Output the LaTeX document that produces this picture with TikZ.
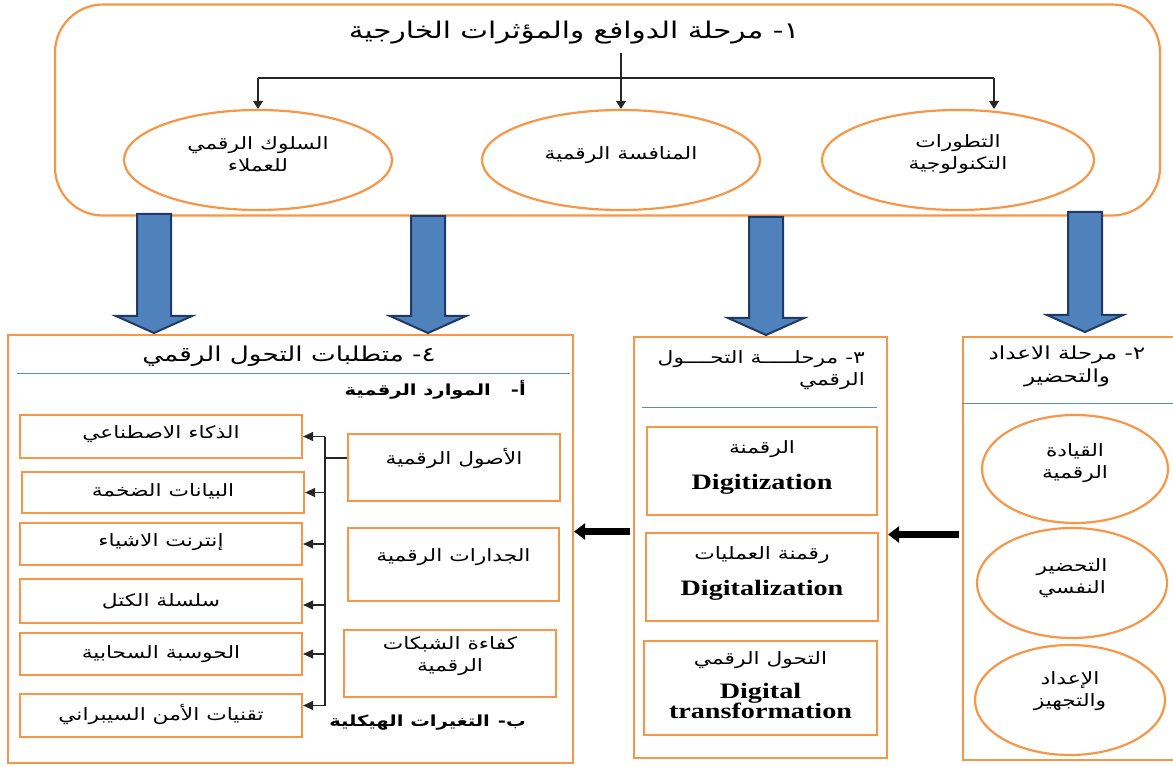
\documentclass[tikz,border=0pt]{standalone}
\usepackage{fontspec}
\setmainfont{Liberation Serif}
\newfontfamily\arabicfont[Script=Arabic, FakeStretch=1.28]{DejaVu Sans}
\newfontfamily\latinfont[FakeStretch=1.28]{Liberation Serif}
\TeXXeTstate=1
\usetikzlibrary{shapes.geometric,arrows.meta}
\newcommand{\artxt}[1]{{\arabicfont\beginR #1\endR}}
\newcommand{\entxt}[1]{{\latinfont\fontsize{22}{22}\selectfont\bfseries #1}}
\newcommand{\fsz}[2]{\fontsize{#1}{#2}\selectfont}
\definecolor{orng}{HTML}{F79646}
\definecolor{bfill}{HTML}{4F81BD}
\definecolor{bedge}{HTML}{1F3B63}
\definecolor{sepline}{HTML}{5B8BC6}
\begin{document}
\begin{tikzpicture}[x=1pt,y=-1pt,
  ob/.style={draw=orng, line width=2.2pt, inner sep=0pt},
  panel/.style={ob, rectangle},
  itembox/.style={ob, rectangle},
  oval/.style={ob, ellipse},
  txt/.style={align=center, inner sep=0pt, font=\fsz{17}{22}},
  conn/.style={draw=black!85, line width=1.1pt},
  tipS/.style={-{Triangle[length=8pt,width=10pt]}},
  tipL/.style={-{Triangle[length=10pt,width=9pt]}},
  bigarrow/.style={draw=black, line width=7pt, -{Triangle[length=11pt,width=16pt]}},
  blockarrow/.style={fill=bfill, draw=bedge, line width=2pt, line join=miter},
  sep/.style={draw=sepline, line width=1pt},
  sub/.style={inner sep=0pt, font=\fsz{15.3}{18}\bfseries}
]
\useasboundingbox (0,0) rectangle (1173,767);
\clip (0,0) rectangle (1173,767);

% ---- stage 1: external drivers ----
\node[ob, rounded corners=48pt, minimum width=1105pt, minimum height=211pt] (s1) at (607.5,110) {};
\node[inner sep=0pt, font=\fsz{23}{26}] (t1) at (574,33) {\artxt{١- مرحلة الدوافع والمؤثرات الخارجية}};
\node[oval, minimum width=268pt, minimum height=100pt] (e1) at (258,160) {};
\node[oval, minimum width=278pt, minimum height=100pt] (e2) at (621,160) {};
\node[oval, minimum width=272pt, minimum height=100pt] (e3) at (958,160) {};
\node[txt] (e1t) at ([yshift=6pt]e1.center) {\artxt{السلوك الرقمي}\\\artxt{للعملاء}};
\node[txt] (e2t) at ([yshift=5pt]e2.center) {\artxt{المنافسة الرقمية}};
\node[txt] (e3t) at ([yshift=6pt]e3.center) {\artxt{التطورات}\\\artxt{التكنولوجية}};

\coordinate (hb) at (622,78);
\coordinate (e3n) at ([xshift=36pt]e3.north);
\draw[conn, tipS] ([yshift=-8pt]t1.south -| e2.north) -- (e2.north);
\draw[conn] (hb -| e1.north) -- (hb -| e3n);
\draw[conn, tipS] (hb -| e1.north) -- (e1.north);
\draw[conn, tipS] (hb -| e3n) -- (e3n);

% ---- block arrows down to the stages ----
\foreach \x/\a/\b in {154/214/333, 428/216/333, 766/217/335, 1085/212/332}
  \draw[blockarrow] (\x-17,\a) -- (\x+17,\a) -- (\x+17,\b-17) -- (\x+38,\b-17)
       -- (\x,\b) -- (\x-38,\b-17) -- (\x-17,\b-17) -- cycle;

% ---- stage 2: preparation ----
\node[panel, minimum width=222pt, minimum height=423pt] (p2) at (1074,548.5) {};
\node[txt, font=\fsz{18}{23}] (t2) at (1067,366) {\artxt{٢- مرحلة الاعداد}\\\artxt{والتحضير}};
\draw[sep] (p2.west |- 0,403) -- (1173,403);
\node[oval, minimum width=186pt, minimum height=108pt] (r1) at (1075,469) {};
\node[oval, minimum width=190pt, minimum height=110pt] (r2) at (1072,583) {};
\node[oval, minimum width=190pt, minimum height=110pt] (r3) at (1070,700) {};
\node[txt] (r1t) at ([yshift=5.5pt]r1.center) {\artxt{القيادة}\\\artxt{الرقمية}};
\node[txt] (r2t) at ([yshift=5pt]r2.center) {\artxt{التحضير}\\\artxt{النفسي}};
\node[txt] (r3t) at ([yshift=9pt]r3.center) {\artxt{الإعداد}\\\artxt{والتجهيز}};

% ---- stage 3: digital transformation ----
\node[panel, minimum width=253pt, minimum height=421pt] (p3) at (760.5,547.5) {};
\node[txt, font=\fsz{17}{22}, align=right, anchor=east] (t3) at (865,370) {\artxt{٣- مرحلـــــة التحــــول}\\\artxt{الرقمي}};
\draw[sep] (642,407) -- (877,407);
\node[itembox, minimum width=230pt, minimum height=88pt] (m1) at (762,471) {};
\node[itembox, minimum width=232pt, minimum height=88pt] (m2) at (762,577) {};
\node[itembox, minimum width=233pt, minimum height=94pt] (m3) at (760.5,688) {};
\node[txt] (m1t) at ([yshift=4pt]m1.center) {\artxt{الرقمنة}\\[14pt]\entxt{Digitization}};
\node[txt] (m2t) at ([yshift=3.5pt]m2.center) {\artxt{رقمنة العمليات}\\[14pt]\entxt{Digitalization}};
\node[txt] (m3t) at ([yshift=3pt]m3.center) {\artxt{التحول الرقمي}\\[12pt]\entxt{Digital}\\[-2pt]\entxt{transformation}};

% ---- stage 4: requirements ----
\node[panel, minimum width=565pt, minimum height=428pt] (p4) at (290.5,549) {};
\node[txt, font=\fsz{20.5}{22}] (t4) at (289,356) {\artxt{٤- متطلبات التحول الرقمي}};
\draw[sep] (17,373) -- (570,373);
\node[sub, anchor=east] (h1) at (526,390) {\artxt{أ-\hspace{20pt}الموارد الرقمية}};
\node[sub, anchor=east] (h2) at (526,723) {\artxt{ب-\hspace{8pt}التغيرات الهيكلية}};

\node[itembox, minimum width=212pt, minimum height=67pt] (a1) at (454,467.5) {};
\node[itembox, minimum width=211pt, minimum height=73pt] (a2) at (453.5,564.5) {};
\node[itembox, minimum width=212pt, minimum height=67pt] (a3) at (450,663.5) {};
\node[txt] (a1t) at ([yshift=9pt]a1.center) {\artxt{الأصول الرقمية}};
\node[txt] (a2t) at ([yshift=7pt]a2.center) {\artxt{الجدارات الرقمية}};
\node[txt] (a3t) at ([yshift=7pt]a3.center) {\artxt{كفاءة الشبكات}\\\artxt{الرقمية}};

\node[itembox, minimum width=282pt, minimum height=43pt] (b1) at (161,436.5) {};
\node[itembox, minimum width=282pt, minimum height=41pt] (b2) at (163,492.5) {};
\node[itembox, minimum width=282pt, minimum height=42pt] (b3) at (161,544) {};
\node[itembox, minimum width=282pt, minimum height=44pt] (b4) at (161,601) {};
\node[itembox, minimum width=282pt, minimum height=42pt] (b5) at (161,654) {};
\node[itembox, minimum width=282pt, minimum height=43pt] (b6) at (161,715.5) {};
\node[txt] (b1t) at ([yshift=2pt]b1.center) {\artxt{الذكاء الاصطناعي}};
\node[txt] (b2t) at ([yshift=1pt]b2.center) {\artxt{البيانات الضخمة}};
\node[txt] (b3t) at ([yshift=2pt]b3.center) {\artxt{إنترنت الاشياء}};
\node[txt] (b4t) at (b4.center) {\artxt{سلسلة الكتل}};
\node[txt] (b5t) at (b5.center) {\artxt{الحوسبة السحابية}};
\node[txt] (b6t) at ([yshift=1pt]b6.center) {\artxt{تقنيات الأمن السيبراني}};

\coordinate (sx) at (325,0);
\coordinate (b4a) at ([yshift=-4pt]b4.east);
\coordinate (b6a) at ([yshift=10pt]b6.east);
\coordinate (a1s) at ([yshift=9.5pt]a1.west);
\draw[conn] (sx |- b1.east) -- (sx |- b6a);
\draw[conn] (a1s) -- (sx |- a1s);
\foreach \b in {b1,b2,b3,b5}
  \draw[conn, tipL] (sx |- \b.east) -- (\b.east);
\draw[conn, tipL] (sx |- b4a) -- (b4a);
\draw[conn, tipL] (sx |- b6a) -- (b6a);

% ---- flow between the lower stages ----
\draw[bigarrow] ([shift={(-3,-14)}]p2.west) coordinate (a23) -- (a23 -| p3.east);
\draw[bigarrow] ([shift={(-3,-16)}]p3.west) coordinate (a34) -- (a34 -| p4.east);
\end{tikzpicture}
\end{document}
